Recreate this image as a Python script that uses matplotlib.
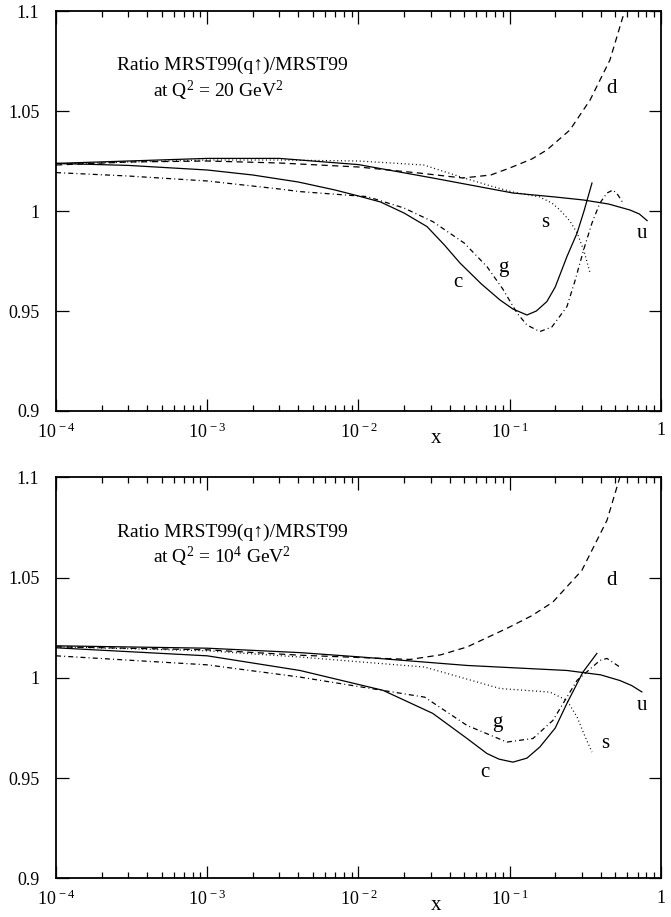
import matplotlib
matplotlib.use("Agg")
import matplotlib.pyplot as plt
from matplotlib.ticker import FixedLocator, LogLocator, NullFormatter

plt.rcParams['font.family'] = ['Liberation Serif', 'DejaVu Serif']
plt.rcParams['mathtext.fontset'] = 'custom'
plt.rcParams['mathtext.rm'] = 'Liberation Serif'
plt.rcParams['mathtext.it'] = 'Liberation Serif:italic'

# ---- top panel, Q^2 = 20 GeV^2 ----
u1_x = [1e-4, 3e-4, 1e-3, 3e-3, 1e-2, 0.031, 0.105, 0.2, 0.308, 0.45, 0.624, 0.72, 0.81]
u1_y = [1.0238, 1.025, 1.0263, 1.0263, 1.0232, 1.0165, 1.009, 1.007, 1.0055, 1.0035, 1.0005, 0.9985, 0.9952]

c1_x = [1e-4, 3e-4, 1e-3, 2e-3, 4e-3, 7e-3, 1e-2, 0.014, 0.02, 0.0284, 0.037, 0.0469, 0.065,
        0.0863, 0.105, 0.13, 0.15, 0.176, 0.2, 0.239, 0.279, 0.31, 0.35]
c1_y = [1.0238, 1.0228, 1.0205, 1.018, 1.0145, 1.0105, 1.0075, 1.0045, 0.999, 0.9922, 0.983, 0.974, 0.9635,
        0.9555, 0.951, 0.948, 0.950, 0.9547, 0.962, 0.9772, 0.989, 1.0, 1.014]

d1_x = [1e-4, 3e-4, 1e-3, 3e-3, 1e-2, 0.025, 0.049, 0.075, 0.1, 0.14, 0.176, 0.25, 0.34, 0.46, 0.57, 0.65]
d1_y = [1.023, 1.0245, 1.025, 1.024, 1.022, 1.019, 1.0165, 1.018, 1.0215, 1.026, 1.0305, 1.0405, 1.0555, 1.0755, 1.099, 1.115]

s1_x = [1e-4, 3e-4, 1e-3, 3e-3, 1e-2, 0.027, 0.05, 0.075, 0.105, 0.158, 0.19, 0.215, 0.25, 0.279, 0.31, 0.34]
s1_y = [1.0235, 1.0245, 1.0255, 1.0255, 1.025, 1.023, 1.0165, 1.0125, 1.0095, 1.007, 1.004, 1.0005, 0.995, 0.989, 0.980, 0.969]

g1_x = [1e-4, 3e-4, 1e-3, 3e-3, 0.0041, 0.0114, 0.02, 0.031, 0.05, 0.0707, 0.09, 0.1117, 0.13, 0.158,
        0.19, 0.239, 0.27, 0.308, 0.35, 0.395, 0.44, 0.482, 0.52, 0.561]
g1_y = [1.0192, 1.0175, 1.015, 1.011, 1.0097, 1.0072, 1.0015, 0.9947, 0.984, 0.9722, 0.961, 0.949, 0.943, 0.9397,
        0.942, 0.9522, 0.965, 0.9805, 0.994, 1.004, 1.009, 1.0105, 1.008, 1.004]

# ---- bottom panel, Q^2 = 10^4 GeV^2 ----
u2_x = [1e-4, 1e-3, 0.0041, 1e-2, 0.0522, 0.239, 0.4, 0.535, 0.64, 0.748]
u2_y = [1.016, 1.0148, 1.0126, 1.0105, 1.0062, 1.0037, 1.0015, 0.9987, 0.9962, 0.993]

d2_x = [1e-4, 1e-3, 0.0041, 0.0219, 0.035, 0.0522, 0.0959, 0.14, 0.193, 0.3, 0.44, 0.535, 0.6]
d2_y = [1.0155, 1.014, 1.0113, 1.0092, 1.0115, 1.0154, 1.0247, 1.031, 1.0378, 1.0536, 1.0786, 1.1, 1.115]

s2_x = [1e-4, 1e-3, 0.0041, 0.0274, 0.0863, 0.1845, 0.239, 0.279, 0.31, 0.35]
s2_y = [1.0155, 1.0135, 1.0104, 1.0054, 0.9947, 0.9929, 0.9888, 0.9805, 0.972, 0.963]

c2_x = [1e-4, 1e-3, 0.0041, 0.01452, 0.031, 0.0522, 0.0707, 0.085, 0.105, 0.13, 0.158, 0.2, 0.239, 0.305, 0.377]
c2_y = [1.015, 1.011, 1.0037, 0.9938, 0.9823, 0.9698, 0.9623, 0.9595, 0.958, 0.960, 0.9655, 0.975, 0.9873, 1.0029, 1.0122]

g2_x = [1e-4, 1e-3, 0.0041, 0.0274, 0.0522, 0.0959, 0.1426, 0.193, 0.279, 0.395, 0.44, 0.535]
g2_y = [1.011, 1.0065, 1.0004, 0.9904, 0.9763, 0.968, 0.9698, 0.9788, 0.9988, 1.0087, 1.0097, 1.0054]

# curve label positions (x, y) per panel
labels1 = {'d': (0.474, 1.0615), 's': (0.171, 0.9945), 'u': (0.748, 0.989),
           'g': (0.0902, 0.972), 'c': (0.0455, 0.9645)}
labels2 = {'d': (0.474, 1.0486), 's': (0.427, 0.9673), 'u': (0.748, 0.9863),
           'g': (0.0824, 0.9778), 'c': (0.0686, 0.9529)}

ytick_vals = [0.9, 0.95, 1.0, 1.05, 1.1]
ytick_text = ['0.9', '0.95', '1', '1.05', '1.1']
xtick_vals = [1e-4, 1e-3, 1e-2, 1e-1, 1]
xtick_text = [r'$10^{\,-4}$', r'$10^{\,-3}$', r'$10^{\,-2}$', r'$10^{\,-1}$', '1']

fig = plt.figure(figsize=(6.71, 9.17), dpi=100)
ax1 = fig.add_axes([0.0835, 0.5518, 0.9015, 0.4362])
ax2 = fig.add_axes([0.0835, 0.0420, 0.9015, 0.4375])

lw = 0.9
styles = {
    'u': dict(color='black', lw=lw, ls='-'),
    'c': dict(color='black', lw=lw, ls='-'),
    'd': dict(color='black', lw=lw, ls=(0, (5, 3.5))),
    's': dict(color='black', lw=lw, ls=(0, (0.8, 2.2))),
    'g': dict(color='black', lw=lw, ls=(0, (4, 2.5, 0.8, 2.5))),
}

panels = [
    (ax1, {'u': (u1_x, u1_y), 'c': (c1_x, c1_y), 'd': (d1_x, d1_y), 's': (s1_x, s1_y), 'g': (g1_x, g1_y)},
     labels1, r'at Q$^2$ = 20 GeV$^2$'),
    (ax2, {'u': (u2_x, u2_y), 'c': (c2_x, c2_y), 'd': (d2_x, d2_y), 's': (s2_x, s2_y), 'g': (g2_x, g2_y)},
     labels2, r'at Q$^2$ = 10$^4$ GeV$^2$'),
]

for ax, curves, labs, qtext in panels:
    for name, (xs, ys) in curves.items():
        ax.plot(xs, ys, **styles[name])
    for name, (lx, ly) in labs.items():
        ax.text(lx, ly, name, fontsize=15, ha='center', va='center')

    ax.set_xscale('log')
    ax.set_xlim(1e-4, 1)
    ax.set_ylim(0.9, 1.1)

    ax.xaxis.set_major_locator(FixedLocator(xtick_vals))
    ax.set_xticklabels(xtick_text, fontsize=13)
    ax.xaxis.set_minor_locator(LogLocator(base=10, subs=range(2, 10), numticks=20))
    ax.xaxis.set_minor_formatter(NullFormatter())
    ax.set_yticks(ytick_vals)
    ax.set_yticklabels(ytick_text, fontsize=13)

    ax.tick_params(which='major', direction='in', length=9, width=0.9, top=True, right=True, pad=8)
    ax.tick_params(axis='x', which='minor', direction='in', length=4.5, width=0.9, top=True)
    ax.tick_params(axis='y', which='major', pad=12)
    for sp in ax.spines.values():
        sp.set_linewidth(1.3)

    ax.text(0.628, -0.068, 'x', transform=ax.transAxes, fontsize=15, ha='center', va='center')
    ax.text(0.101, 0.8525, 'Ratio MRST99(q\u2191)/MRST99', transform=ax.transAxes, fontsize=14,
            ha='left', va='baseline')
    ax.text(0.16, 0.785, qtext, transform=ax.transAxes, fontsize=14, ha='left', va='baseline')

fig.savefig('out.png', dpi=100)
